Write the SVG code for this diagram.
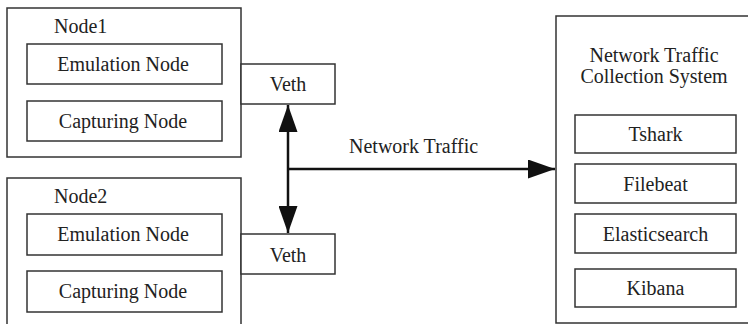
<svg xmlns="http://www.w3.org/2000/svg" width="748" height="324" viewBox="0 0 748 324">
<defs>
<style>
.box{fill:#fff;stroke:#333;stroke-width:1.5}
.t{font-family:'Liberation Serif','DejaVu Serif','Times New Roman',serif;font-size:20px;fill:#222}
.c{text-anchor:middle}
.conn{fill:none;stroke:#111;stroke-width:2.5}
</style>
<marker id="ah" viewBox="0 0 27 19" refX="27" refY="9.5" markerUnits="userSpaceOnUse" markerWidth="27" markerHeight="19" orient="auto">
<path d="M0,0 L27,9.5 L0,19 Z" fill="#111"/>
</marker>
</defs>
<rect width="748" height="324" fill="#fff"/>
<g id="node1">
<rect class="box" x="7" y="8" width="234" height="149"/>
<text class="t" x="54" y="33">Node1</text>
<rect class="box" x="27" y="44" width="195" height="40"/>
<text class="t c" x="123" y="71">Emulation Node</text>
<rect class="box" x="27" y="101" width="195" height="40"/>
<text class="t c" x="123" y="128">Capturing Node</text>
</g>
<g id="veth1">
<rect class="box" x="241" y="64" width="94" height="40"/>
<text class="t c" x="288" y="91">Veth</text>
</g>
<g id="node2">
<rect class="box" x="7" y="178" width="234" height="160"/>
<text class="t" x="54" y="203">Node2</text>
<rect class="box" x="27" y="214" width="195" height="41"/>
<text class="t c" x="123" y="241">Emulation Node</text>
<rect class="box" x="27" y="271" width="195" height="41"/>
<text class="t c" x="123" y="298">Capturing Node</text>
</g>
<g id="veth2">
<rect class="box" x="241" y="234" width="94" height="40"/>
<text class="t c" x="288" y="262">Veth</text>
</g>
<g id="collection">
<rect class="box" x="556" y="16" width="200" height="307"/>
<text class="t c" x="654" y="62">Network Traffic</text>
<text class="t c" x="654" y="83">Collection System</text>
<rect class="box" x="575" y="115" width="161" height="38"/>
<text class="t c" x="655.5" y="141">Tshark</text>
<rect class="box" x="575" y="164" width="161" height="39"/>
<text class="t c" x="655.5" y="191">Filebeat</text>
<rect class="box" x="575" y="214" width="161" height="39"/>
<text class="t c" x="655.5" y="241">Elasticsearch</text>
<rect class="box" x="575" y="269" width="161" height="38"/>
<text class="t c" x="655.5" y="295">Kibana</text>
</g>
<g id="connectors">
<line class="conn" x1="288" y1="169" x2="288" y2="105" marker-end="url(#ah)"/>
<line class="conn" x1="288" y1="169" x2="288" y2="233" marker-end="url(#ah)"/>
<line class="conn" x1="287" y1="169" x2="555" y2="169" marker-end="url(#ah)"/>
<text class="t" x="349" y="153">Network Traffic</text>
</g>
</svg>
